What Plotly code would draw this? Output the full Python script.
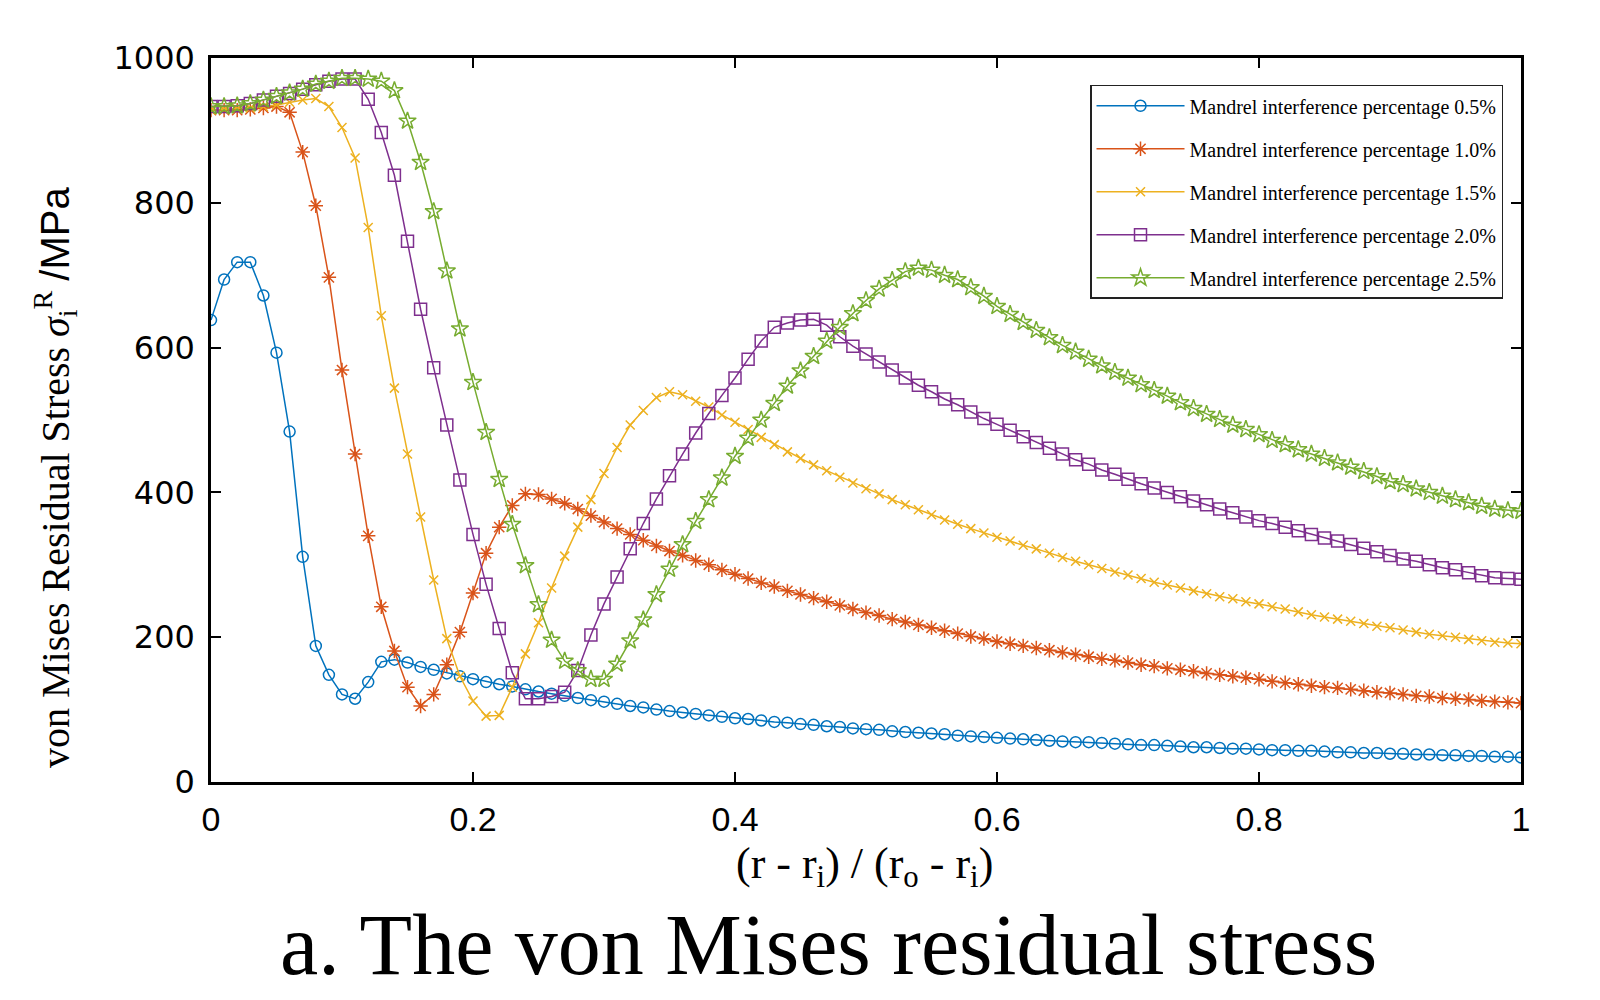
import plotly.graph_objects as go

x_ratio = [0.00, 0.01, 0.02, 0.03, 0.04, 0.05, 0.06, 0.07, 0.08, 0.09,
           0.10, 0.11, 0.12, 0.13, 0.14, 0.15, 0.16, 0.17, 0.18, 0.19,
           0.20, 0.21, 0.22, 0.23, 0.24, 0.25, 0.26, 0.27, 0.28, 0.29,
           0.30, 0.31, 0.32, 0.33, 0.34, 0.35, 0.36, 0.37, 0.38, 0.39,
           0.40, 0.41, 0.42, 0.43, 0.44, 0.45, 0.46, 0.47, 0.48, 0.49,
           0.50, 0.51, 0.52, 0.53, 0.54, 0.55, 0.56, 0.57, 0.58, 0.59,
           0.60, 0.61, 0.62, 0.63, 0.64, 0.65, 0.66, 0.67, 0.68, 0.69,
           0.70, 0.71, 0.72, 0.73, 0.74, 0.75, 0.76, 0.77, 0.78, 0.79,
           0.80, 0.81, 0.82, 0.83, 0.84, 0.85, 0.86, 0.87, 0.88, 0.89,
           0.90, 0.91, 0.92, 0.93, 0.94, 0.95, 0.96, 0.97, 0.98, 0.99, 1.00]

stress_05 = [638, 694, 718, 718, 672, 593, 484, 311, 188, 148,
             121, 115, 138, 166, 169, 165, 159, 155, 150, 146,
             142, 138, 135, 132, 128, 125, 122, 119, 116, 113,
             111, 108, 105, 103, 100, 98, 96, 94, 92, 90,
             88, 87, 85, 83, 82, 80, 79, 77, 76, 74,
             73, 72, 70, 69, 68, 67, 66, 64, 63, 62,
             61, 60, 59, 58, 57, 56, 55, 55, 54, 53,
             52, 51, 51, 50, 49, 48, 48, 47, 46, 46,
             45, 44, 44, 43, 43, 42, 41, 41, 40, 40,
             39, 39, 38, 38, 37, 37, 36, 36, 35, 35, 34]

stress_10 = [928, 928, 928, 929, 931, 933, 925, 870, 796, 697,
             569, 453, 340, 242, 181, 131, 105, 121, 162, 207,
             261, 316, 352, 382, 398, 397, 391, 385, 377, 368,
             359, 350, 342, 334, 326, 319, 313, 306, 300, 293,
             287, 281, 275, 270, 264, 259, 254, 249, 244, 239,
             234, 230, 225, 221, 217, 213, 209, 205, 201, 198,
             194, 191, 188, 185, 182, 179, 176, 173, 170, 168,
             165, 162, 160, 157, 155, 153, 150, 148, 146, 144,
             142, 139, 137, 135, 133, 131, 130, 128, 126, 124,
             123, 121, 119, 118, 116, 115, 114, 112, 111, 110, 109]

stress_15 = [928, 929, 930, 931, 933, 935, 939, 942, 944, 933,
             904, 862, 766, 644, 544, 453, 366, 279, 198, 146,
             112, 91, 92, 131, 177, 220, 268, 312, 352, 390,
             426, 462, 493, 513, 531, 539, 535, 526, 518, 507,
             497, 487, 476, 466, 456, 447, 438, 430, 421, 413,
             405, 398, 390, 383, 376, 369, 362, 356, 350, 344,
             338, 333, 327, 322, 316, 310, 305, 300, 295, 290,
             286, 281, 276, 272, 268, 264, 260, 256, 253, 249,
             246, 242, 239, 235, 231, 228, 225, 222, 219, 215,
             213, 210, 207, 204, 202, 200, 197, 195, 193, 192, 191]

stress_20 = [933, 933, 934, 937, 942, 947, 951, 957, 963, 968,
             971, 971, 943, 897, 838, 747, 653, 572, 493, 417,
             342, 273, 212, 151, 115, 115, 118, 124, 154, 203,
             246, 283, 322, 357, 391, 423, 453, 482, 509, 534,
             558, 584, 609, 628, 634, 638, 639, 631, 615, 602,
             591, 580, 569, 558, 548, 539, 529, 521, 511, 502,
             494, 486, 477, 469, 461, 453, 445, 439, 431, 425,
             418, 412, 406, 400, 394, 388, 383, 377, 372, 366,
             361, 357, 352, 347, 342, 337, 333, 328, 323, 318,
             313, 308, 305, 300, 296, 293, 289, 285, 282, 281, 280]

stress_25 = [933, 933, 934, 937, 942, 947, 952, 957, 964, 968,
             972, 972, 971, 968, 955, 913, 856, 788, 706, 626,
             552, 483, 418, 356, 299, 245, 196, 167, 154, 142,
             142, 163, 195, 224, 259, 294, 328, 360, 390, 420,
             450, 475, 500, 523, 547, 568, 588, 609, 628, 647,
             665, 681, 693, 705, 710, 707, 700, 694, 683, 671,
             657, 646, 635, 624, 614, 603, 594, 584, 575, 566,
             558, 549, 541, 533, 524, 516, 508, 501, 493, 487,
             480, 472, 466, 459, 453, 447, 441, 435, 429, 422,
             415, 411, 405, 400, 395, 390, 386, 381, 377, 375, 374]

series_names = ["Mandrel interference percentage 0.5%",
                "Mandrel interference percentage 1.0%",
                "Mandrel interference percentage 1.5%",
                "Mandrel interference percentage 2.0%",
                "Mandrel interference percentage 2.5%"]
series_values = [stress_05, stress_10, stress_15, stress_20, stress_25]
colors = ["#0072BD", "#D95319", "#EDB120", "#7E2F8E", "#77AC30"]
symbols = ["circle-open", "asterisk-open", "x-thin-open", "square-open", "star-open"]
sizes = [11, 12, 9, 12, 13]

x_ticks = [0, 0.2, 0.4, 0.6, 0.8, 1]
x_tick_text = ["0", "0.2", "0.4", "0.6", "0.8", "1"]
y_ticks = [0, 200, 400, 600, 800, 1000]
y_tick_text = ["0", "200", "400", "600", "800", "1000"]

fig = go.Figure()
for i, (name, vals) in enumerate(zip(series_names, series_values)):
    fig.add_trace(go.Scatter(
        x=x_ratio, y=vals, name=name, mode="lines+markers",
        legendgroup=f"g{i}",
        line=dict(color=colors[i], width=1.5),
        marker=dict(symbol=symbols[i], size=sizes[i], color=colors[i],
                    line=dict(color=colors[i], width=1.5)),
    ))

serif = "Liberation Serif, Times New Roman, serif"
sans = "Liberation Sans, Arial, sans-serif"

fig.update_layout(
    width=1600, height=1000,
    paper_bgcolor="white", plot_bgcolor="white",
    margin=dict(l=211, r=79, t=58, b=218),
    showlegend=True,
    legend=dict(
        x=0.671, y=0.963, xanchor="left", yanchor="top",
        bgcolor="white", bordercolor="#222", borderwidth=1.5,
        font=dict(family=serif, size=20, color="black"),
        tracegroupgap=14, itemwidth=88,
    ),
    xaxis=dict(
        range=[0, 1], tickvals=x_ticks, ticktext=x_tick_text,
        ticks="inside", ticklen=10, tickwidth=2, tickcolor="black",
        showline=True, linewidth=2.5, linecolor="black", mirror="ticks",
        showgrid=False, zeroline=False,
        tickfont=dict(family=sans, size=34, color="black"),
        ticklabelstandoff=5,
    ),
    yaxis=dict(
        range=[0, 1000], tickvals=y_ticks, ticktext=y_tick_text,
        ticks="inside", ticklen=10, tickwidth=2, tickcolor="black",
        showline=True, linewidth=2.5, linecolor="black", mirror="ticks",
        showgrid=False, zeroline=False,
        tickfont=dict(family="DejaVu Sans, sans-serif", size=32, color="black"),
        ticklabelstandoff=7,
    ),
    annotations=[
        dict(text="von Mises Residual Stress <i>σ</i><sub>i</sub><sup>R</sup> <span style='font-family:Liberation Sans'>/MPa</span>",
             xref="paper", yref="paper", x=-0.119, y=0.42,
             xanchor="center", yanchor="middle",
             textangle=-90, showarrow=False,
             font=dict(family=serif, size=40, color="black")),
        dict(text="(r - r<sub>i</sub>) / (r<sub>o</sub> - r<sub>i</sub>)",
             xref="paper", yref="paper", x=0.499, y=-0.117,
             xanchor="center", yanchor="middle",
             showarrow=False,
             font=dict(family=serif, size=44, color="black")),
        dict(text="a. The von Mises residual stress",
             xref="paper", yref="paper", x=0.471, y=-0.225,
             xanchor="center", yanchor="middle",
             showarrow=False,
             font=dict(family=serif, size=86, color="black")),
    ],
)

fig.write_html("out.html")
